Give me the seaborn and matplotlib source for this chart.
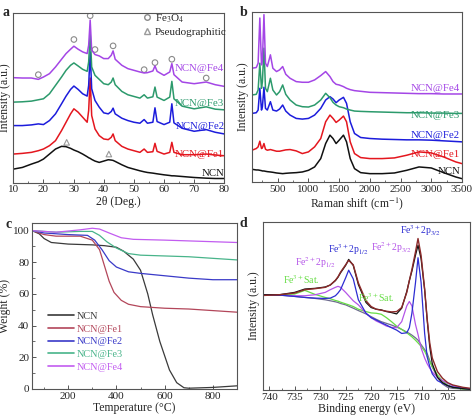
import numpy as np
import pandas as pd
import matplotlib
matplotlib.use("Agg")
import matplotlib.pyplot as plt
from matplotlib.ticker import AutoMinorLocator, MultipleLocator
from matplotlib.lines import Line2D
import seaborn as sns

# ---- data ----
samples = ["NCN", "NCN@Fe1", "NCN@Fe2", "NCN@Fe3", "NCN@Fe4"]
ab_colors = ["#111111", "#e4161e", "#1c1cdc", "#2c9a6c", "#a446e6"]
c_colors = ["#3a3a3a", "#b3465a", "#3a3ac8", "#48b48a", "#c25cf0"]

# a: XRD (intensity in arbitrary units)
xrd_2theta = [10, 13, 16, 18.3, 20, 22, 24, 26, 27.5, 29, 30.1, 31.5, 33, 34.5, 35.0, 35.5, 36.0,
              37.1, 38.5, 40, 41.5, 42.5, 43.1, 43.8, 46, 48, 50, 52, 53.4, 54.5, 56.3, 57.0, 57.7,
              60, 61.9, 62.6, 63.3, 66, 70, 74, 77, 80]
xrd_ncn = [40, 45, 55, 62, 70, 85, 100, 108, 107, 102, 97, 92, 85, 77, 74, 72, 69,
           64, 60, 64, 68, 67, 66, 63, 53, 45, 40, 35, 32, 30, 28, 27, 26,
           23, 21, 20, 20, 18, 15, 13, 12, 12]
xrd_fe1 = [85, 87, 90, 95, 100, 110, 125, 155, 180, 205, 220, 210, 195, 180, 215, 312, 200,
           160, 140, 130, 128, 135, 145, 125, 108, 100, 95, 90, 100, 90, 92, 117, 93,
           85, 90, 120, 90, 83, 83, 85, 82, 80]
xrd_fe2 = [170, 170, 172, 175, 173, 185, 205, 235, 258, 278, 288, 278, 265, 258, 290, 390, 280,
           245, 225, 208, 205, 212, 222, 205, 192, 185, 180, 177, 188, 177, 180, 223, 182,
           173, 180, 235, 178, 162, 153, 158, 150, 145]
xrd_fe3 = [240, 241, 243, 247, 250, 265, 290, 315, 335, 350, 357, 348, 338, 332, 360, 445, 345,
           320, 308, 295, 292, 300, 312, 292, 272, 262, 257, 252, 262, 252, 256, 285, 255,
           245, 255, 302, 250, 228, 220, 226, 219, 217]
xrd_fe4 = [313, 312, 312, 308, 315, 325, 345, 368, 385, 398, 407, 398, 390, 385, 410, 485, 395,
           382, 378, 370, 370, 380, 393, 368, 350, 340, 335, 330, 327, 328, 333, 348, 332,
           320, 330, 355, 322, 300, 295, 300, 292, 287]
fe3o4_x = [18.3, 30.1, 35.5, 37.1, 43.1, 53.4, 57.0, 62.6, 74.0]
fe3o4_y = [322, 427, 498, 397, 408, 337, 358, 368, 312]
pseudo_x = [27.7, 41.7]
pseudo_y = [120, 85]
xrd_label_y = [27, 83, 167, 235, 340]

# b: Raman
raman_shift = [80, 150, 180, 208, 235, 250, 275, 300, 330, 380, 420, 480, 530, 580, 630, 700, 800,
               900, 1000, 1100, 1200, 1280, 1350, 1400, 1450, 1500, 1570, 1620, 1680, 1750, 1850,
               2000, 2200, 2400, 2600, 2800, 3000, 3200, 3400, 3500]
raman_ncn = [38, 36, 36, 35, 34, 33, 33, 32, 31, 30, 29, 27, 26, 25, 26, 27, 28,
             30, 35, 45, 70, 115, 140, 130, 115, 125, 140, 120, 70, 40, 28,
             25, 25, 27, 35, 45, 42, 28, 15, 10]
raman_fe1 = [95, 100, 105, 122, 100, 102, 115, 98, 95, 97, 95, 92, 92, 94, 96, 97, 93,
             85, 90, 105, 130, 180, 200, 190, 178, 185, 197, 180, 120, 85, 73,
             70, 70, 72, 80, 90, 87, 75, 60, 55]
raman_fe2 = [205, 207, 215, 280, 215, 225, 283, 220, 215, 240, 215, 212, 218, 230, 212, 200, 190,
             188, 190, 200, 220, 245, 255, 248, 237, 245, 253, 235, 180, 145, 133,
             130, 128, 127, 126, 126, 125, 123, 121, 120]
raman_fe3 = [260, 262, 275, 355, 280, 300, 400, 280, 270, 310, 275, 260, 270, 290, 262, 245, 230,
             225, 224, 230, 245, 265, 252, 238, 230, 225, 222, 218, 215, 212, 211,
             210, 209, 208, 207, 207, 206, 206, 205, 205]
raman_fe4 = [340, 342, 355, 490, 350, 365, 500, 355, 345, 380, 340, 330, 335, 345, 322, 310, 300,
             298, 298, 305, 318, 330, 315, 300, 292, 290, 285, 280, 276, 273, 271,
             268, 267, 266, 265, 264, 264, 263, 263, 263]
raman_label_y = [30, 83, 140, 200, 280]

# c: TGA (weight %)
tga_ncn_t = [50, 80, 100, 130, 200, 300, 350, 400, 430, 470, 500, 530, 550, 580, 620, 650, 680, 700, 800, 900]
tga_ncn_w = [100, 98, 95, 92.5, 91.5, 91, 90.5, 89.5, 87, 82, 75, 60, 47, 30, 12, 4, 0.8, 0.5, 1, 2]
tga_fe1_t = [50, 100, 150, 250, 300, 330, 350, 370, 390, 420, 450, 500, 600, 700, 800, 900]
tga_fe1_w = [100, 97.5, 96.5, 96.5, 94, 88, 78, 68, 61, 56, 53.5, 52, 51, 50.5, 49.5, 48.5]
tga_fe2_t = [50, 100, 200, 280, 310, 340, 370, 400, 450, 500, 600, 700, 800, 900]
tga_fe2_w = [100, 98.5, 97.5, 97, 94, 88, 81, 77, 74, 73, 71.5, 70, 69, 69]
tga_fe3_t = [50, 150, 250, 300, 330, 360, 400, 450, 500, 600, 700, 800, 900]
tga_fe3_w = [100, 99, 99.5, 99.5, 97, 93, 89, 85.5, 84.5, 84, 83.5, 82.5, 81.5]
tga_fe4_t = [50, 150, 250, 300, 330, 370, 420, 470, 600, 700, 800, 900]
tga_fe4_w = [100, 99, 100.5, 101.5, 101, 98.5, 95.5, 94.5, 94, 93.5, 93, 92.5]

# d: XPS Fe 2p (intensity in arbitrary units)
binding_energy = [741, 738, 735, 733, 731, 729, 728, 727, 726.5, 726, 725, 724.4, 723.5, 722.5, 721,
                  720, 719, 718, 717, 716, 715, 714, 713, 712.5, 712, 711.3, 710.8, 710.2, 709.5,
                  709, 708.5, 708, 707, 706, 705, 704, 702, 700.5]
xps_raw = [283, 283, 290, 300, 302, 306, 312, 325, 335, 348, 370, 388, 370, 313, 260,
           245, 240, 238, 233, 230, 226, 243, 293, 325, 353, 400, 430, 390, 298,
           208, 128, 78, 38, 22, 13, 8, 4, 2]
xps_fit = [281, 283, 288, 298, 301, 305, 312, 326, 336, 350, 372, 385, 372, 318, 265,
           248, 240, 237, 234, 232, 233, 245, 290, 325, 358, 410, 450, 400, 300,
           210, 140, 95, 55, 35, 22, 15, 8, 5]
xps_bg = [283, 282, 278, 275, 272, 268, 265, 262, 260, 257, 253, 249, 243, 236, 226,
          218, 210, 203, 198, 193, 187, 180, 172, 168, 163, 155, 148, 135, 120,
          108, 88, 68, 38, 18, 8, 5, 3, 1]
xps_fe3 = [283, 282, 278, 275, 273, 272, 273, 280, 288, 298, 333, 356, 330, 268, 228,
           215, 208, 200, 193, 185, 178, 168, 170, 185, 228, 318, 393, 320, 168,
           98, 70, 48, 28, 20, 13, 9, 5, 3]
xps_fe2 = [283, 282, 280, 280, 283, 290, 298, 305, 308, 305, 290, 280, 265, 253, 228,
           215, 205, 198, 190, 186, 185, 203, 250, 263, 250, 195, 165, 125, 95,
           78, 65, 53, 38, 28, 20, 13, 6, 3]
xps_sat = [283, 283, 285, 296, 284, 275, 271, 266, 264, 261, 256, 253, 248, 240, 233,
           229, 228, 225, 215, 203, 190, 180, 170, 164, 158, 148, 140, 130, 115,
           100, 85, 70, 45, 27, 15, 8, 3, 1]

# ---- style ----
sns.set_theme(style="ticks")
plt.rcParams["font.family"] = ["Liberation Serif", "DejaVu Serif"]
plt.rcParams["mathtext.fontset"] = "stix"
plt.rcParams["axes.edgecolor"] = "#555555"
plt.rcParams["axes.linewidth"] = 0.8

fig = plt.figure(figsize=(4.74, 4.19), dpi=100)
ax_a = fig.add_axes([0.0281, 0.5644, 0.4451, 0.4053])
ax_b = fig.add_axes([0.5316, 0.5656, 0.4430, 0.4050])
ax_c = fig.add_axes([0.0675, 0.0716, 0.4325, 0.3969])
ax_d = fig.add_axes([0.5549, 0.0692, 0.4367, 0.4017])


def style_ax(ax, left_ticks=False):
    ax.tick_params(which="both", direction="in", labelsize=8, pad=2, color="#555555",
                   top=False, right=False, left=left_ticks, labelleft=left_ticks)
    ax.tick_params(which="major", length=3, width=0.7)
    ax.tick_params(which="minor", length=1.8, width=0.6)


# ---- a: XRD ----
for y, col in zip([xrd_ncn, xrd_fe1, xrd_fe2, xrd_fe3, xrd_fe4], ab_colors):
    sns.lineplot(x=xrd_2theta, y=y, ax=ax_a, color=col, lw=1.1, sort=False, estimator=None)
for name, col, ly in zip(samples, ab_colors, xrd_label_y):
    ax_a.text(80, ly, name, color=col, fontsize=7.8, ha="right", va="center")
ax_a.scatter(fe3o4_x, fe3o4_y, s=16, facecolors="none", edgecolors="#8a8a8a", lw=0.8)
ax_a.scatter(pseudo_x, pseudo_y, s=16, marker="^", facecolors="none", edgecolors="#9a9a9a", lw=0.8)
handles = [Line2D([], [], ls="", marker="o", mfc="none", mec="#8a8a8a", ms=4),
           Line2D([], [], ls="", marker="^", mfc="none", mec="#9a9a9a", ms=4)]
ax_a.legend(handles, ["Fe$_3$O$_4$", "Pseudographitic"], loc="upper left",
            bbox_to_anchor=(0.585, 1.03), frameon=False, fontsize=8,
            handletextpad=0.2, labelspacing=0.25, handlelength=1.0, borderaxespad=0)
ax_a.set_xlim(10, 80)
ax_a.set_ylim(0, 507)
ax_a.xaxis.set_major_locator(MultipleLocator(10))
ax_a.xaxis.set_minor_locator(AutoMinorLocator(2))
style_ax(ax_a)
ax_a.set_xlabel("2θ (Deg.)", fontsize=8.5, labelpad=1)
ax_a.set_ylabel("Intensity (a.u.)", fontsize=8.5, labelpad=2)

# ---- b: Raman ----
for y, col in zip([raman_ncn, raman_fe1, raman_fe2, raman_fe3, raman_fe4], ab_colors):
    sns.lineplot(x=raman_shift, y=y, ax=ax_b, color=col, lw=1.1, sort=False, estimator=None)
for name, col, ly in zip(samples, ab_colors, raman_label_y):
    ax_b.text(3470, ly, name, color=col, fontsize=7.8, ha="right", va="center")
ax_b.set_xlim(80, 3500)
ax_b.set_ylim(0, 507)
ax_b.xaxis.set_major_locator(MultipleLocator(500))
ax_b.xaxis.set_minor_locator(AutoMinorLocator(2))
style_ax(ax_b)
ax_b.set_xlabel("Raman shift (cm$^{-1}$)", fontsize=8.5, labelpad=1)
ax_b.set_ylabel("Intensity (a.u.)", fontsize=8.5, labelpad=2)

# ---- c: TGA ----
tga = [(tga_ncn_t, tga_ncn_w), (tga_fe1_t, tga_fe1_w), (tga_fe2_t, tga_fe2_w),
       (tga_fe3_t, tga_fe3_w), (tga_fe4_t, tga_fe4_w)]
for (t, w), col, name in zip(tga, c_colors, samples):
    sns.lineplot(x=t, y=w, ax=ax_c, color=col, lw=0.9, sort=False, estimator=None, label=name)
leg = ax_c.legend(loc="lower left", bbox_to_anchor=(0.06, 0.08), frameon=False, fontsize=7.4,
                  handlelength=2.5, handletextpad=0.3, labelspacing=0.34, borderaxespad=0)
for txt, col in zip(leg.get_texts(), c_colors):
    txt.set_color(col)
for ln in leg.get_lines():
    ln.set_linewidth(1.2)
ax_c.set_xlim(50, 900)
ax_c.set_ylim(0, 105)
ax_c.xaxis.set_major_locator(MultipleLocator(200))
ax_c.xaxis.set_minor_locator(AutoMinorLocator(2))
ax_c.yaxis.set_major_locator(MultipleLocator(20))
ax_c.yaxis.set_minor_locator(AutoMinorLocator(2))
style_ax(ax_c, left_ticks=True)
ax_c.set_xlabel("Temperature (°C)", fontsize=8.5, labelpad=1)
ax_c.set_ylabel("Weight (%)", fontsize=8.5, labelpad=1)

# ---- d: XPS ----
xps_lines = [(xps_bg, "#6e6c8e", 0.9), (xps_sat, "#66dd44", 0.9), (xps_fe2, "#b455e8", 0.9),
             (xps_fe3, "#2d2dd2", 0.9), (xps_raw, "#111111", 0.9), (xps_fit, "#8c2a2a", 1.0)]
for y, col, lw in xps_lines:
    sns.lineplot(x=binding_energy, y=y, ax=ax_d, color=col, lw=lw, sort=False, estimator=None)
peak_labels = [(710.4, 473, "Fe$^{3+}$2p$_{3/2}$", "#2d2dd2"),
               (716.0, 423, "Fe$^{2+}$2p$_{3/2}$", "#b455e8"),
               (724.5, 418, "Fe$^{3+}$2p$_{1/2}$", "#2d2dd2"),
               (730.9, 380, "Fe$^{2+}$2p$_{1/2}$", "#b455e8"),
               (733.6, 328, "Fe$^{3+}$Sat.", "#66dd44"),
               (718.9, 276, "Fe$^{3+}$Sat.", "#66dd44")]
for px, py, s, col in peak_labels:
    ax_d.text(px, py, s, color=col, fontsize=7, ha="center", va="center")
ax_d.set_xlim(741.2, 700.6)
ax_d.set_ylim(0, 500)
ax_d.xaxis.set_major_locator(MultipleLocator(5))
ax_d.xaxis.set_minor_locator(AutoMinorLocator(2))
style_ax(ax_d)
ax_d.set_xlabel("Binding energy (eV)", fontsize=8.5, labelpad=1)
ax_d.set_ylabel("Intensity (a.u.)", fontsize=8.5, labelpad=2)

# panel letters
for x, y, s in [(0.006, 0.985, "a"), (0.506, 0.985, "b"), (0.012, 0.48, "c"), (0.506, 0.482, "d")]:
    fig.text(x, y, s, fontsize=10, fontweight="bold", va="top")

fig.savefig("out.png", dpi=100)
